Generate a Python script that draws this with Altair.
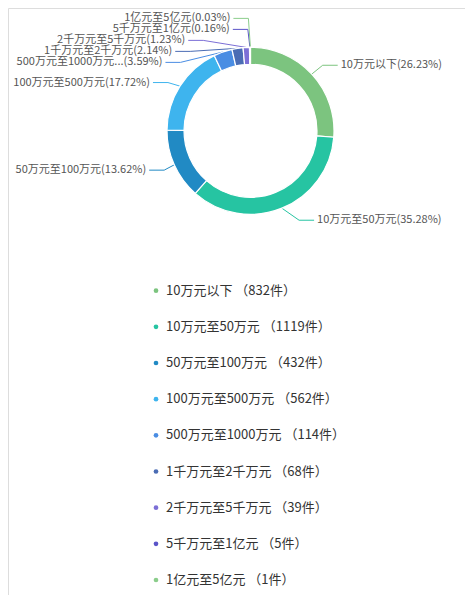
import math
import altair as alt
import pandas as pd

# ---------------- data ----------------
names = ["10万元以下", "10万元至50万元", "50万元至100万元", "100万元至500万元",
         "500万元至1000万元", "1千万元至2千万元", "2千万元至5千万元",
         "5千万元至1亿元", "1亿元至5亿元"]
counts = [832, 1119, 432, 562, 114, 68, 39, 5, 1]
colors = ["#7cc47f", "#26c4a2", "#218ac4", "#3eb4ee", "#4a8de3",
          "#4a6cb4", "#7c6fd6", "#5a54c8", "#8bcd8b"]
# label names as displayed beside the ring (one is truncated in the original)
ring_names = ["10万元以下", "10万元至50万元", "50万元至100万元", "100万元至500万元",
              "500万元至1000万元...", "1千万元至2千万元", "2千万元至5千万元",
              "5千万元至1亿元", "1亿元至5亿元"]

FONT = "Noto Sans CJK SC"
W, H = 457, 587            # canvas size (page minus 8px margin)
OFF = 8                    # page margin
CX, CY = 250.5, 130.8      # ring centre in page coordinates
R_OUT, R_IN = 83.5, 66.5
LEN1, LEN2 = 13, 15
LABEL_H = 11.0

total = sum(counts)
legend_labels = [f"{n} （{c}件）" for n, c in zip(names, counts)]
pcts = [f"{c / total * 100:.2f}" for c in counts]

# ------------- label layout (ECharts-like) -------------
items = []
cum = 0
for i, c in enumerate(counts):
    a0 = cum / total * 2 * math.pi
    cum += c
    a1 = cum / total * 2 * math.pi
    mid = (a0 + a1) / 2
    dx, dy = math.sin(mid), -math.cos(mid)
    x1, y1 = CX + dx * R_OUT, CY + dy * R_OUT
    x2, y2 = CX + dx * (R_OUT + LEN1), CY + dy * (R_OUT + LEN1)
    side = -1 if dx < 0 else 1
    x3 = x2 + side * LEN2
    tx = x3 + side * 5
    items.append(dict(i=i, x=tx, y=y2, p0=(x1, y1), dist=x2 - x3))


def adjust(lst, direction):
    lst.sort(key=lambda d: d["y"])
    n = len(lst)
    if n == 0:
        return

    def shift_up(end, delta):
        for j in range(end, -1, -1):
            if lst[j]["y"] - delta < 0:
                break
            lst[j]["y"] -= delta
            if j > 0 and lst[j]["y"] > lst[j - 1]["y"] + LABEL_H:
                break

    def shift_down(start, end, delta):
        for j in range(start, end):
            if lst[j]["y"] + delta > 600:
                break
            lst[j]["y"] += delta
            if j > start and j + 1 < end and lst[j + 1]["y"] > lst[j]["y"] + LABEL_H:
                shift_up(j, delta / 2)
                return
        shift_up(end - 1, delta / 2)

    last = 0
    for k in range(n):
        delta = lst[k]["y"] - last
        if delta < 0:
            shift_down(k, n, -delta)
        last = lst[k]["y"] + LABEL_H

    def change_x(sub, is_down):
        last_dx = float("inf") if is_down else 0
        for d in sub:
            dyy = abs(d["y"] - CY)
            if dyy < R_OUT + LEN1:
                ddx = math.sqrt((R_OUT + LEN1 + LEN2) ** 2 - dyy ** 2)
            else:
                ddx = abs(d["x"] - CX)
            if is_down and ddx >= last_dx:
                ddx = last_dx - 10
            if (not is_down) and ddx <= last_dx:
                ddx = last_dx + 10
            d["x"] = CX + ddx * direction
            last_dx = ddx

    change_x([d for d in lst if d["y"] < CY], False)
    change_x([d for d in lst if d["y"] >= CY], True)


left = [d for d in items if d["x"] < CX]
right = [d for d in items if d["x"] >= CX]
adjust(right, 1)
adjust(left, -1)

line_rows, text_rows = [], []
for d in items:
    i = d["i"]
    is_left = d["x"] < CX
    p2x = d["x"] + 3 if is_left else d["x"] - 3
    p1x = p2x + d["dist"]
    pts = [d["p0"], (p1x, d["y"]), (p2x, d["y"])]
    for k, (px, py) in enumerate(pts):
        line_rows.append(dict(name=names[i], legend=legend_labels[i], pt=k, px=px, py=py))
    text_rows.append(dict(name=names[i], side=-1 if is_left else 1, px=d["x"], py=d["y"],
                          label=f"{ring_names[i]}({pcts[i]}%)"))

base_df = pd.DataFrame({"name": names, "legend": legend_labels, "count": counts,
                        "order": list(range(len(names)))})
line_df = pd.DataFrame(line_rows)
text_df = pd.DataFrame(text_rows)

xs = alt.Scale(domain=[OFF, OFF + W], range=[0, W])
ys = alt.Scale(domain=[OFF, OFF + H], range=[0, H])
color_scale = alt.Scale(domain=legend_labels, range=colors)
# legend rows: evenly spaced list below the ring
LEG_TOP, LEG_BOTTOM = 290.7 - OFF, 580.0 - OFF
leg_y = alt.Y("legend:N", sort=legend_labels, axis=None,
              scale=alt.Scale(type="point", domain=legend_labels,
                              range=[LEG_TOP, LEG_BOTTOM], padding=0))

arc = alt.Chart(base_df).mark_arc(
    radius=R_OUT, radius2=R_IN, stroke="white", strokeWidth=1.2
).encode(
    theta=alt.Theta("count:Q", stack=True),
    order=alt.Order("order:Q"),
    color=alt.Color("legend:N", scale=color_scale, legend=None),
    x=alt.value(CX - OFF),
    y=alt.value(CY - OFF),
)

lines = alt.Chart(line_df).mark_line(strokeWidth=1).encode(
    x=alt.X("px:Q", scale=xs, axis=None),
    y=alt.Y("py:Q", scale=ys, axis=None),
    detail="name:N",
    order="pt:Q",
    color=alt.Color("legend:N", scale=color_scale, legend=None),
)

text_l = alt.Chart(text_df).transform_filter("datum.side < 0").mark_text(
    align="right", baseline="middle", font=FONT, fontSize=11, color="#555555"
).encode(
    x=alt.X("px:Q", scale=xs, axis=None),
    y=alt.Y("py:Q", scale=ys, axis=None),
    text="label:N",
)
text_r = alt.Chart(text_df).transform_filter("datum.side > 0").mark_text(
    align="left", baseline="middle", font=FONT, fontSize=11, color="#555555"
).encode(
    x=alt.X("px:Q", scale=xs, axis=None),
    y=alt.Y("py:Q", scale=ys, axis=None),
    text="label:N",
)

leg_dots = alt.Chart(base_df).mark_circle(size=22, opacity=1).encode(
    x=alt.value(156 - OFF),
    y=leg_y,
    color=alt.Color("legend:N", scale=color_scale, legend=None),
)
leg_text = alt.Chart(base_df).mark_text(
    align="left", baseline="middle", font=FONT, fontSize=13, color="#333333"
).encode(
    x=alt.value(166 - OFF),
    y=leg_y,
    text="legend:N",
)

chart = alt.layer(lines, arc, text_l, text_r, leg_dots, leg_text).resolve_scale(
    y="independent"
).properties(
    width=W, height=H, autosize=alt.AutoSizeParams(type="none"), padding=0
).configure_view(
    strokeWidth=0, stroke="transparent"
).configure_axis(
    domain=False, grid=False, ticks=False, labels=False
).configure(background="white")

chart.save("out.html", embed_options={"renderer": "svg", "actions": False})
